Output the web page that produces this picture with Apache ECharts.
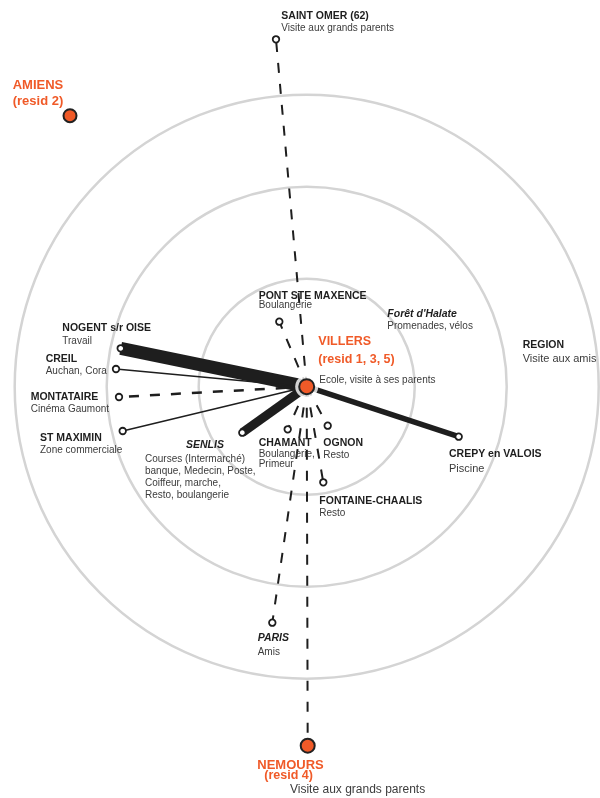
<!DOCTYPE html>
<html><head><meta charset="utf-8">
<script src="https://cdn.jsdelivr.net/npm/echarts@6/dist/echarts.min.js"></script>
<style>html,body{margin:0;padding:0;background:#fff}#chart{width:600px;height:798px}</style>
</head><body><div id="chart"></div>
<script>
// ================= DATA =================
const home = 'VILLERS';
const residences = ['VILLERS', 'AMIENS', 'NEMOURS'];
const residenceTags = ['(resid 1, 3, 5)', '(resid 2)', '(resid 4)'];
const residenceNotes = ['Ecole, visite à ses parents', '', 'Visite aux grands parents'];
const residenceX = [306.7, 70, 307.7];
const residenceY = [386.7, 115.7, 745.7];

const places = ['SAINT OMER (62)', 'PONT STE MAXENCE', 'NOGENT s/r OISE', 'CREIL', 'MONTATAIRE',
  'ST MAXIMIN', 'SENLIS', 'CHAMANT', 'OGNON', 'FONTAINE-CHAALIS', 'CREPY en VALOIS', 'PARIS'];
const placeActivities = [
  ['Visite aux grands parents'], ['Boulangerie'], ['Travail'], ['Auchan, Cora'], ['Cinéma Gaumont'],
  ['Zone commerciale'],
  ['Courses (Intermarché)', 'banque, Medecin, Poste,', 'Coiffeur, marche,', 'Resto, boulangerie'],
  ['Boulangerie,', 'Primeur'], ['Resto'], ['Resto'], ['Piscine'], ['Amis']];
const placeX = [276, 279.3, 120.7, 116, 119, 122.7, 242.3, 287.7, 327.7, 323.3, 458.7, 272.3];
const placeY = [39.3, 321.7, 348.3, 369, 397, 431, 432.7, 429.3, 425.7, 482.3, 436.7, 622.7];

const areas = ["Forêt d'Halate", 'REGION'];
const areaActivities = ['Promenades, vélos', 'Visite aux amis'];
const areaX = [387.3, 522.7];
const areaY = [314, 345.3];

const ringRadii = [108, 200, 292];

const trips = ['SAINT OMER (62)', 'PONT STE MAXENCE', 'NOGENT s/r OISE', 'CREIL', 'MONTATAIRE',
  'ST MAXIMIN', 'SENLIS', 'CHAMANT', 'OGNON', 'FONTAINE-CHAALIS', 'CREPY en VALOIS', 'PARIS', 'NEMOURS'];
const tripIntensity = [2, 2, 13, 1.5, 2.5, 1.5, 9, 2, 2, 2, 5.5, 2, 2];
const tripRegular = [false, false, true, true, false, true, true, false, false, false, true, false, false];

// ================= LAYOUT / STYLE =================
const ORANGE = '#f05a28', INK = '#1e1e1e', GREY = '#3c3c3c', RING = '#d4d4d4';
const FONT = '"Liberation Sans", Arial, sans-serif';
const placeLabelLayout = [
  {dx: 5.3, ty: -23.6, sy: -10.6},
  {dx: -20.6, ty: -26, sy: -16.7},
  {dx: -58.4, ty: -20.6, sy: -7.3},
  {dx: -70.3, ty: -10, sy: 2},
  {dx: -88.3, ty: 0, sy: 12},
  {dx: -82.7, ty: 6.7, sy: 19.7},
  {dx: -56.3, ty: 12, sdx: -97.3, sy: 26.3, lh: 12.1, italic: true},
  {dx: -29, ty: 13.4, sy: 24.7, lh: 10.5},
  {dx: -4.4, ty: 17.6, sy: 30},
  {dx: -4, ty: 18.4, sy: 31},
  {dx: -9.7, ty: 17.3, sy: 32.3, subSize: 11},
  {dx: -14.6, ty: 15, sy: 29.3, italic: true}
];
const residenceLabelLayout = [
  {dx: 11.6, ty: -45, rdx: 11.6, ry: -26.7, sdx: 12.6, sy: -6, size: 12.5, rsize: 12.5, subSize: 10},
  {dx: -57.3, ty: -30.7, rdx: -57.3, ry: -14, size: 13, rsize: 13},
  {dx: -50.4, ty: 19.3, rdx: -43.4, ry: 30.3, sdx: -17.7, sy: 43.6, size: 13, rsize: 12.5, subSize: 12}
];
const areaLabelLayout = [
  {dx: 0, ty: 0, sy: 12.3, italic: true},
  {dx: 0, ty: 0, sy: 13.7, subSize: 11}
];

// ================= BUILD =================
function locate(name) {
  let i = places.indexOf(name);
  if (i >= 0) return [placeX[i], placeY[i]];
  i = residences.indexOf(name);
  return [residenceX[i], residenceY[i]];
}
const homePos = locate(home);

function txt(x, y, s, opt) {
  return {
    type: 'text', x: x, y: y,
    style: {
      text: s, fill: opt.fill || INK, fontFamily: FONT, fontSize: opt.size || 10,
      fontWeight: opt.bold ? 'bold' : 'normal', fontStyle: opt.italic ? 'italic' : 'normal',
      align: 'left', verticalAlign: 'middle'
    }
  };
}

const labelItems = [];
places.forEach((p, i) => labelItems.push({value: [placeX[i], placeY[i]], kind: 'place', idx: i}));
areas.forEach((a, i) => labelItems.push({value: [areaX[i], areaY[i]], kind: 'area', idx: i}));
residences.forEach((r, i) => labelItems.push({value: [residenceX[i], residenceY[i]], kind: 'res', idx: i}));

const option = {
  animation: false,
  grid: {left: 0, right: 0, top: 0, bottom: 0},
  xAxis: {type: 'value', min: 0, max: 600, show: false},
  yAxis: {type: 'value', min: 0, max: 798, inverse: true, show: false},
  series: [
    { // rings
      type: 'custom', z: 1, silent: true,
      data: ringRadii.map(r => [homePos[0], homePos[1], r]),
      renderItem: (params, api) => {
        const c = api.coord([api.value(0), api.value(1)]);
        const s = api.size([api.value(2), api.value(2)]);
        return {type: 'circle', shape: {cx: c[0], cy: c[1], r: s[0]},
          style: {fill: 'none', stroke: RING, lineWidth: 2.5}};
      }
    },
    { // trips
      type: 'custom', z: 2, silent: true,
      data: trips.map(t => locate(t)),
      renderItem: (params, api) => {
        const a = api.coord(homePos);
        const b = api.coord([api.value(0), api.value(1)]);
        const i = params.dataIndex;
        return {type: 'line', shape: {x1: a[0], y1: a[1], x2: b[0], y2: b[1]},
          style: {stroke: INK, lineWidth: tripIntensity[i], lineCap: 'butt',
            lineDash: tripRegular[i] ? null : [10, 11]}};
      }
    },
    { // halo around home
      type: 'scatter', z: 3, silent: true, symbolSize: 23,
      itemStyle: {color: '#fff'},
      data: [homePos]
    },
    { // visited places
      type: 'scatter', z: 4, silent: true, symbol: 'circle', symbolSize: 6.5,
      itemStyle: {color: '#fff', borderColor: INK, borderWidth: 1.8, opacity: 1},
      data: places.map((p, i) => [placeX[i], placeY[i]])
    },
    { // residences
      type: 'scatter', z: 4, silent: true, symbol: 'circle',
      symbolSize: (v, p) => [15, 13, 14][p.dataIndex],
      itemStyle: {color: ORANGE, borderColor: '#222', borderWidth: 2, opacity: 1},
      data: residences.map((r, i) => [residenceX[i], residenceY[i]])
    },
    { // labels
      type: 'custom', z: 5, silent: true,
      data: labelItems,
      renderItem: (params, api) => {
        const item = labelItems[params.dataIndex];
        const c = api.coord([api.value(0), api.value(1)]);
        const kids = [];
        if (item.kind === 'place') {
          const L = placeLabelLayout[item.idx];
          kids.push(txt(c[0] + L.dx, c[1] + L.ty, places[item.idx], {bold: true, size: 10.5, italic: L.italic}));
          const sdx = L.sdx !== undefined ? L.sdx : L.dx;
          placeActivities[item.idx].forEach((line, k) => {
            kids.push(txt(c[0] + sdx, c[1] + L.sy + k * (L.lh || 12), line, {fill: GREY, size: L.subSize || 10}));
          });
        } else if (item.kind === 'area') {
          const L = areaLabelLayout[item.idx];
          kids.push(txt(c[0] + L.dx, c[1] + L.ty, areas[item.idx], {bold: true, size: 10.5, italic: L.italic}));
          kids.push(txt(c[0] + L.dx, c[1] + L.sy, areaActivities[item.idx], {fill: GREY, size: L.subSize || 10}));
        } else {
          const L = residenceLabelLayout[item.idx];
          kids.push(txt(c[0] + L.dx, c[1] + L.ty, residences[item.idx], {bold: true, size: L.size, fill: ORANGE}));
          kids.push(txt(c[0] + L.rdx, c[1] + L.ry, residenceTags[item.idx], {bold: true, size: L.rsize, fill: ORANGE}));
          if (residenceNotes[item.idx]) {
            kids.push(txt(c[0] + L.sdx, c[1] + L.sy, residenceNotes[item.idx], {fill: GREY, size: L.subSize}));
          }
        }
        return {type: 'group', children: kids};
      }
    }
  ]
};

const chart = echarts.init(document.getElementById('chart'), null, {renderer: 'canvas'});
chart.setOption(option);
</script>
</body></html>
